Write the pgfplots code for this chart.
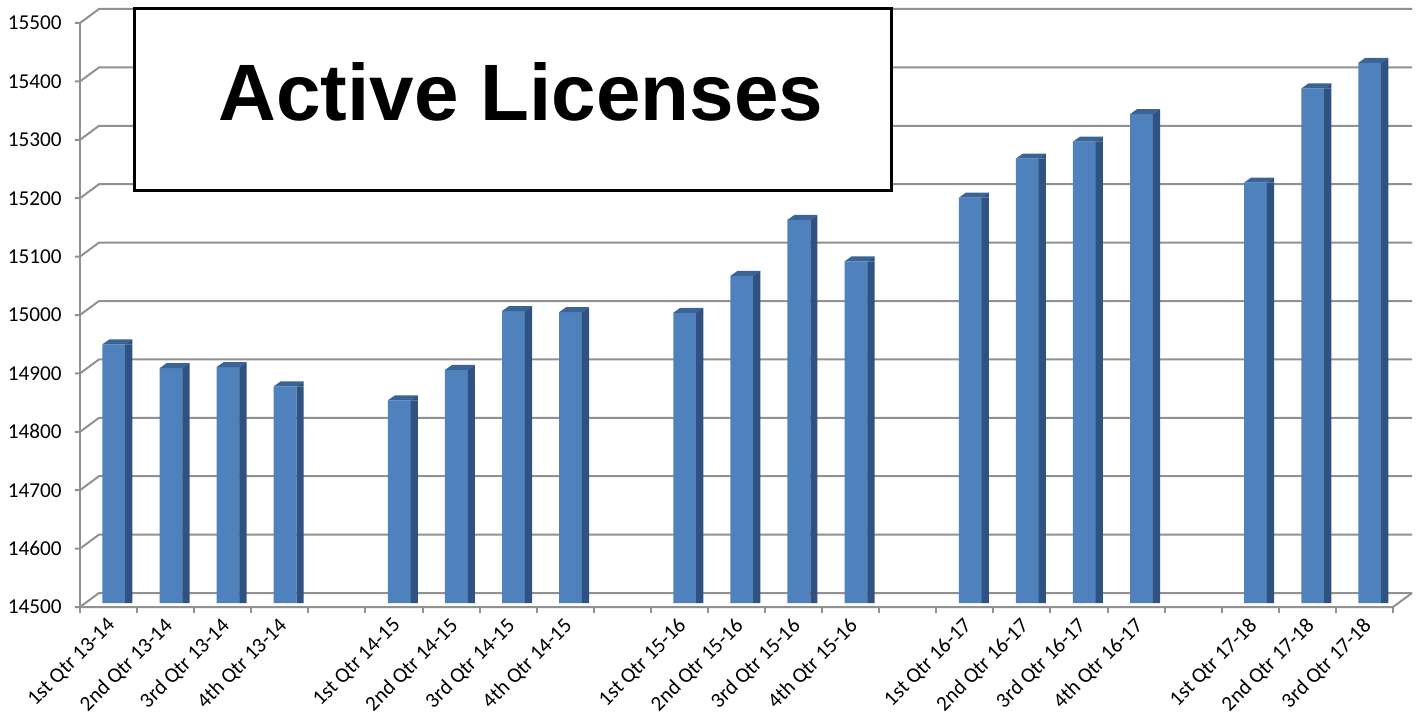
\documentclass[border=0pt]{standalone}
\usepackage{fontspec}
\setmainfont{Carlito}
\newfontfamily\arialfont{Liberation Sans}
\usepackage{pgfplots}
\usepackage{pgfplotstable}
\pgfplotsset{compat=1.18}
\pgfdeclarelayer{bg}
\pgfsetlayers{bg,main}

\definecolor{barfront}{RGB}{79,129,189}
\definecolor{barside}{RGB}{47,82,128}
\definecolor{bartop}{RGB}{58,100,150}
\definecolor{gridgray}{RGB}{145,145,145}

% cap of a bar plus the top corner of its side face, drawn at the bar's top centre
\pgfdeclareplotmark{barcap}{%
  \pgfsetfillcolor{barside}%
  \pgfpathmoveto{\pgfqpoint{5.6pt}{0pt}}%
  \pgfpathlineto{\pgfqpoint{9.25pt}{2.5pt}}%
  \pgfpathlineto{\pgfqpoint{9.25pt}{0pt}}%
  \pgfpathclose
  \pgfusepath{fill}%
  \pgfsetfillcolor{bartop}%
  \pgfpathmoveto{\pgfqpoint{-5.75pt}{0pt}}%
  \pgfpathlineto{\pgfqpoint{5.75pt}{0pt}}%
  \pgfpathlineto{\pgfqpoint{9.25pt}{2.5pt}}%
  \pgfpathlineto{\pgfqpoint{-2.25pt}{2.5pt}}%
  \pgfpathclose
  \pgfusepath{fill}%
}

\pgfplotstableread{
x  y
0  14943
1  14902
2  14904
3  14871
5  14847
6  14899
7  15000
8  14998
10 14997
11 15060
12 15156
13 15085
15 15194
16 15261
17 15290
18 15337
20 15220
21 15381
22 15425
}\licenses

\begin{document}
\begin{tikzpicture}
\begin{axis}[
    name=ax,
    scale only axis,
    width=656.5pt, height=292pt,
    xmin=-0.5, xmax=22.5,
    ymin=14500, ymax=15500,
    axis line style={draw=none},
    tick style={draw=none},
    major tick length=0pt,
    scaled y ticks=false,
    ytick={14500,14600,...,15500},
    xtick={0,1,2,3,5,6,7,8,10,11,12,13,15,16,17,18,20,21,22},
    xticklabels={1st Qtr 13-14,2nd Qtr 13-14,3rd Qtr 13-14,4th Qtr 13-14,
      1st Qtr 14-15,2nd Qtr 14-15,3rd Qtr 14-15,4th Qtr 14-15,
      1st Qtr 15-16,2nd Qtr 15-16,3rd Qtr 15-16,4th Qtr 15-16,
      1st Qtr 16-17,2nd Qtr 16-17,3rd Qtr 16-17,4th Qtr 16-17,
      1st Qtr 17-18,2nd Qtr 17-18,3rd Qtr 17-18},
    tick label style={font=\fontsize{10.6}{12.7}\selectfont},
    x tick label style={xshift=-4pt, yshift=-6.5pt, rotate=45, anchor=north east, inner sep=0pt},
    y tick label style={anchor=east, inner sep=0pt, xshift=-11.7pt, yshift=-2pt},
    /pgf/number format/1000 sep={},
    /pgf/number format/fixed,
    /pgf/number format/precision=0,
    /pgf/number format/assume math mode=true,
  ]
  \addplot[ybar, bar width=11.5pt, bar shift=0pt, fill=barfront, draw=none]
    table[x=x, y=y] {\licenses};
  \addplot[ybar, bar width=3.6pt, bar shift=7.45pt, fill=barside, draw=none]
    table[x=x, y=y] {\licenses};
  \addplot[only marks, mark=barcap] table[x=x, y=y] {\licenses};
\end{axis}

% walls, floor and front axis of the 3-D frame
\begin{pgfonlayer}{bg}
  \begin{scope}[gridgray, line width=1pt, shift={(ax.south west)}]
    \foreach \i in {0,...,10} {
      \draw (-5.2pt,-2pt+\i*29.2pt) -- (-2.7pt,-2pt+\i*29.2pt)
            -- (6.8pt,5pt+\i*29.2pt) -- (663.3pt,5pt+\i*29.2pt);
    }
    \draw (-2.7pt,-2pt) -- (-2.7pt,290pt);
    \draw (-2.7pt,-2pt) -- (653.8pt,-2pt) -- (663.3pt,5pt);
    \foreach \j in {0,...,23} {
      \draw (-2.7pt+\j*28.543pt,-2pt) -- ++(0,-3pt);
    }
  \end{scope}
\end{pgfonlayer}

% title box
\draw[line width=1.5pt, fill=white]
  ([shift={(24.8pt,297pt)}]ax.south west) rectangle ([shift={(402.8pt,206pt)}]ax.south west);
\node[inner sep=0pt, anchor=center, font=\arialfont\bfseries\fontsize{40}{48}\selectfont]
  at ([shift={(217.8pt,255.5pt)}]ax.south west) {Active Licenses};

\pgfresetboundingbox
\path[use as bounding box] ([shift={(-42.7pt,-55pt)}]ax.south west)
  rectangle ([shift={(666.8pt,301.5pt)}]ax.south west);
\end{tikzpicture}
\end{document}
